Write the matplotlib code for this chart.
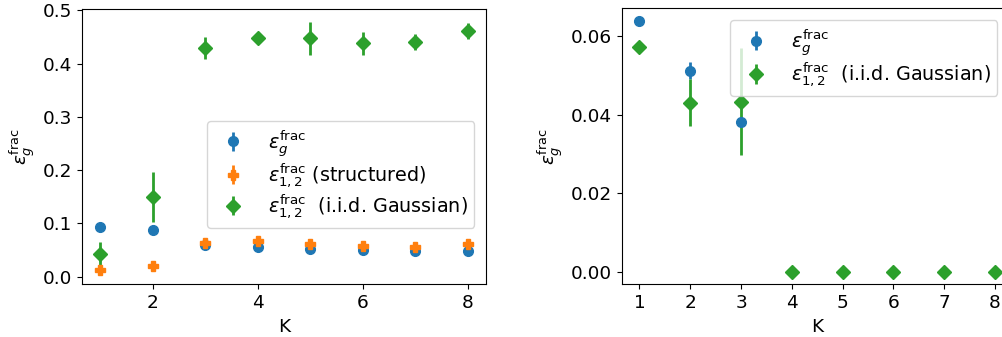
import numpy as np
import matplotlib.pyplot as plt

plt.rcParams['font.size'] = 13.3
plt.rcParams['mathtext.fontset'] = 'dejavusans'

K = np.arange(1, 9)

# left panel
eps_g = [0.093, 0.087, 0.060, 0.055, 0.052, 0.050, 0.049, 0.048]
eps_g_err = [0.001, 0.002, 0.002, 0.002, 0.001, 0.001, 0.001, 0.001]
eps_struct = [0.013, 0.021, 0.063, 0.067, 0.061, 0.057, 0.056, 0.062]
eps_struct_err = [0.004, 0.003, 0.004, 0.004, 0.004, 0.004, 0.004, 0.004]
eps_gauss = [0.042, 0.150, 0.430, 0.448, 0.448, 0.438, 0.440, 0.462]
eps_gauss_err = [0.023, 0.047, 0.021, 0.009, 0.031, 0.021, 0.015, 0.015]

# right panel
eps_g_r = [0.0638, 0.0513, 0.0383]
eps_g_r_err = [0.0002, 0.0022, 0.0003]
K_r = np.arange(1, 4)
eps_gauss_r = [0.0573, 0.0431, 0.0434, 0.0, 0.0, 0.0, 0.0, 0.0]
eps_gauss_r_err = [0.0003, 0.0060, 0.0136, 0.0, 0.0, 0.0, 0.0, 0.0]

lab_g = r'$\varepsilon_g^{\rm frac}$'
lab_s = r'$\varepsilon_{1,2}^{\rm frac}$ (structured)'
lab_n = r'$\varepsilon_{1,2}^{\rm frac}$  (i.i.d. Gaussian)'

fig = plt.figure(figsize=(10.03, 3.37), dpi=100)
ax1 = fig.add_axes([0.0815, 0.156, 0.403, 0.817])
ax2 = fig.add_axes([0.6198, 0.156, 0.39, 0.82])

kw = dict(ls='none', ms=7, elinewidth=2)
leg_kw = dict(fontsize=13.8, labelspacing=0.15, borderpad=0.35)

ax1.errorbar(K, eps_g, yerr=eps_g_err, fmt='o', color='C0', label=lab_g, **kw)
ax1.errorbar(K, eps_struct, yerr=eps_struct_err, fmt='P', color='C1', label=lab_s, **kw)
ax1.errorbar(K, eps_gauss, yerr=eps_gauss_err, fmt='D', color='C2', label=lab_n, **kw)
ax1.set_xlabel('K')
ax1.set_ylabel(lab_g)
ax1.set_yticks([0.0, 0.1, 0.2, 0.3, 0.4, 0.5])
ax1.legend(loc='center right', bbox_to_anchor=(0.995, 0.4), **leg_kw)

ax2.errorbar(K_r, eps_g_r, yerr=eps_g_r_err, fmt='o', color='C0', label=lab_g, **kw)
ax2.errorbar(K, eps_gauss_r, yerr=eps_gauss_r_err, fmt='D', color='C2', label=lab_n, **kw)
ax2.set_xlabel('K')
ax2.set_ylabel(lab_g)
ax2.set_xticks(K)
ax2.set_yticks([0.0, 0.02, 0.04, 0.06])
ax2.legend(loc='upper right', bbox_to_anchor=(0.985, 0.99), **leg_kw)

fig.savefig('out.png', dpi=100)
